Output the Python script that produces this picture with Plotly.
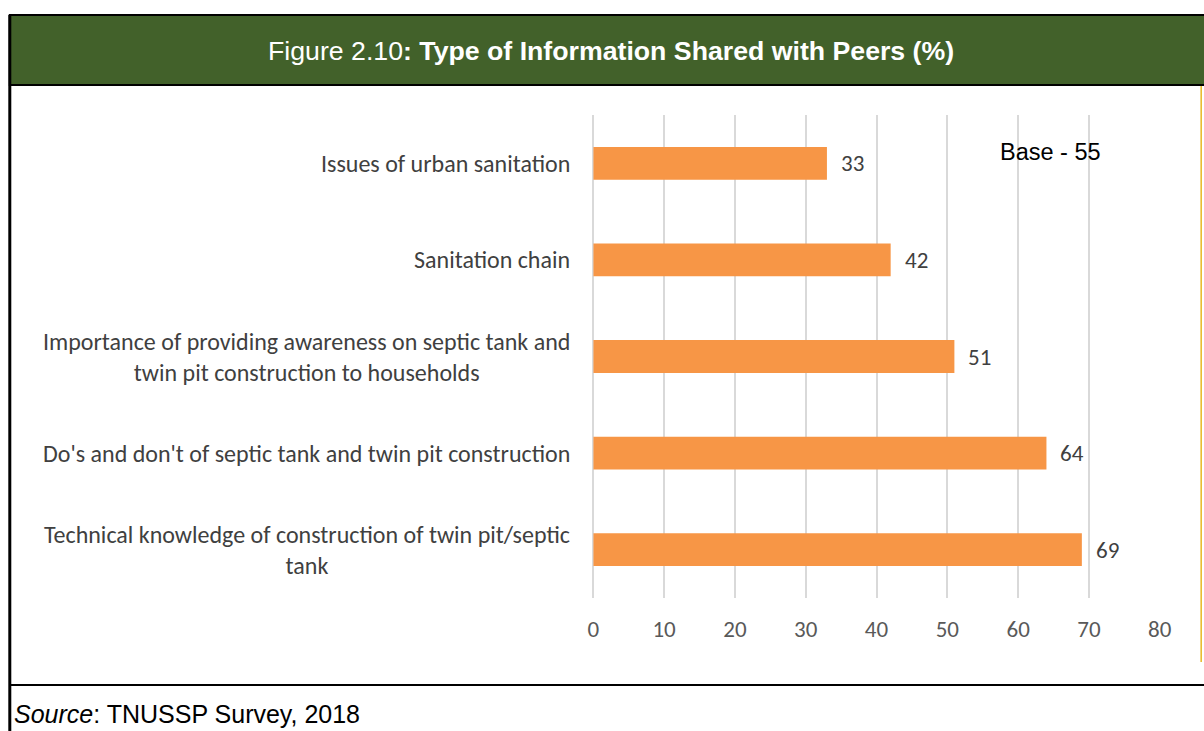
import plotly.graph_objects as go

categories = [
    "Technical knowledge of construction of twin pit/septic<br>tank",
    "Do's and don't of septic tank and twin pit construction",
    "Importance of providing awareness on septic tank and<br>twin pit construction to households",
    "Sanitation chain",
    "Issues of urban sanitation",
]
values = [69, 64, 51, 42, 33]
tick_vals = [0, 10, 20, 30, 40, 50, 60, 70, 80]
title_plain = "Figure 2.10"
title_bold = ": Type of Information Shared with Peers (%)"
base_note = "Base - 55"
source_note = "<i>Source</i>: TNUSSP Survey, 2018"

W, H = 1220, 731
SX, OX = 0.987, 5.2   # observed horizontal mapping of the capture


def px(x):
    return ((x - OX) / SX) / W


def py(y):
    return 1 - y / H


FONT = "Carlito, Lato, 'Open Sans', sans-serif"
ARIAL = "Liberation Sans, Arial, sans-serif"

fig = go.Figure()
fig.add_trace(go.Bar(
    y=categories, x=values, orientation="h",
    marker=dict(color="#F79646", line=dict(width=0)),
    width=0.34, showlegend=False, hoverinfo="skip",
))

# data labels
for c, v in zip(categories, values):
    fig.add_annotation(x=v, y=c, xref="x", yref="y", text=str(v), showarrow=False,
                       xanchor="left", xshift=12,
                       font=dict(family=FONT, size=23, color="#404040"))

# category labels
for c in categories:
    fig.add_annotation(x=px(572), y=c, xref="paper", yref="y", text=c, showarrow=False,
                       xanchor="right", align="center",
                       font=dict(family=FONT, size=24, color="#404040"))

# header
fig.add_shape(type="rect", xref="paper", yref="paper", x0=px(9), x1=1.02,
              y0=py(85), y1=py(15), fillcolor="#42612A",
              line=dict(color="black", width=2), layer="below")
fig.add_annotation(xref="paper", yref="paper", x=px(611), y=py(51),
                   text=title_plain + "<b>" + title_bold + "</b>", showarrow=False,
                   xanchor="center", yanchor="middle",
                   font=dict(family=ARIAL, size=26.7, color="white"))
# left border
fig.add_shape(type="line", xref="paper", yref="paper", x0=px(9), x1=px(9),
              y0=0, y1=py(15), line=dict(color="black", width=3))
# bottom separator
fig.add_shape(type="line", xref="paper", yref="paper", x0=px(9), x1=1,
              y0=py(685), y1=py(685), line=dict(color="black", width=2))
# right yellow line
fig.add_shape(type="line", xref="paper", yref="paper", x0=px(1202.5), x1=px(1202.5),
              y0=py(662), y1=py(86), line=dict(color="#E8B820", width=1.5))

fig.add_annotation(xref="paper", yref="paper", x=px(999), y=py(152), text=base_note,
                   showarrow=False, xanchor="left", yanchor="middle",
                   font=dict(family=ARIAL, size=23.5, color="black"))
fig.add_annotation(xref="paper", yref="paper", x=px(11), y=py(714), text=source_note,
                   showarrow=False, xanchor="left", yanchor="middle",
                   font=dict(family=ARIAL, size=25, color="black"))

fig.update_layout(
    width=W, height=H, margin=dict(l=0, r=0, t=0, b=0),
    paper_bgcolor="white", plot_bgcolor="white",
    xaxis=dict(domain=[px(593.5), px(1161)], range=[0, 80], tickvals=tick_vals,
               showgrid=True, gridcolor="#D9D9D9", gridwidth=1.5,
               zeroline=True, zerolinecolor="#D9D9D9", zerolinewidth=1.5,
               showline=False, ticks="", ticklabelstandoff=15,
               tickfont=dict(family=FONT, size=23, color="#595959")),
    yaxis=dict(domain=[py(598), py(115)], showticklabels=False, showgrid=False,
               zeroline=False, showline=False, range=[-0.5, 4.5]),
)

fig.write_html("out.html", config={"displayModeBar": False},
               post_script="document.body.style.margin='0';document.body.style.overflow='hidden';")
